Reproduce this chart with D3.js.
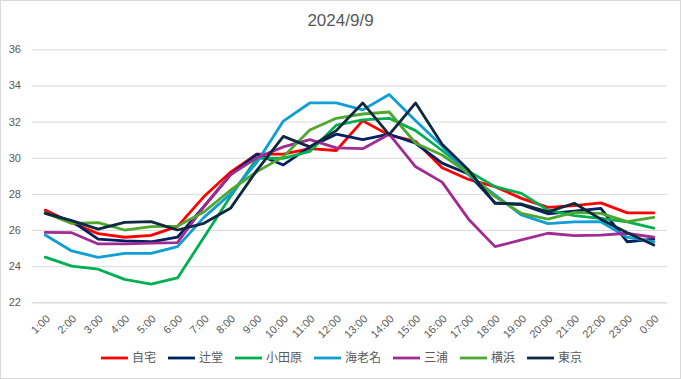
<!DOCTYPE html>
<html>
<head>
<meta charset="utf-8">
<script src="https://cdn.jsdelivr.net/npm/d3@7"></script>
<style>
  html, body { margin: 0; padding: 0; background: #fff; }
  svg { display: block; }
</style>
</head>
<body>
<svg id="chart" width="681" height="379"></svg>
<script>
const hours = ["1:00","2:00","3:00","4:00","5:00","6:00","7:00","8:00","9:00","10:00","11:00","12:00",
               "13:00","14:00","15:00","16:00","17:00","18:00","19:00","20:00","21:00","22:00","23:00","0:00"];
const yTicks = [22, 24, 26, 28, 30, 32, 34, 36];
const seriesNames = ["自宅", "辻堂", "小田原", "海老名", "三浦", "横浜", "東京"];

const jitaku   = [27.1, 26.4, 25.8, 25.6, 25.7, 26.2, 27.85, 29.2, 30.2, 30.2, 30.5, 30.4, 32.05, 31.25, 30.9, 29.45, 28.8, 28.4, 27.75, 27.25, 27.35, 27.5, 26.95, 26.95];
const tsujido  = [26.95, 26.5, 25.5, 25.4, 25.35, 25.6, 27.3, 29.05, 30.2, 29.6, 30.6, 31.3, 31.0, 31.3, 30.8, 29.7, 29.1, 27.5, 27.4, 26.9, 27.05, 27.2, 25.35, 25.5];
const odawara  = [24.5, 24.0, 23.83, 23.27, 23.0, 23.35, 25.6, 27.85, 29.97, 29.97, 30.35, 31.8, 32.1, 32.18, 31.5, 30.4, 29.25, 28.4, 28.03, 27.1, 26.8, 26.65, 26.45, 26.1];
const ebina    = [25.72, 24.84, 24.49, 24.71, 24.71, 25.08, 26.7, 28.0, 29.75, 32.03, 33.03, 33.03, 32.65, 33.5, 32.05, 30.65, 29.05, 27.94, 26.83, 26.35, 26.45, 26.46, 25.6, 25.35];
const miura    = [25.87, 25.85, 25.23, 25.23, 25.27, 25.3, 27.3, 29.05, 30.0, 30.6, 31.0, 30.55, 30.5, 31.3, 29.5, 28.65, 26.6, 25.08, 25.45, 25.82, 25.69, 25.72, 25.82, 25.6];
const yokohama = [26.95, 26.37, 26.41, 26.0, 26.19, 26.22, 27.0, 28.2, 29.23, 30.05, 31.53, 32.18, 32.42, 32.53, 30.8, 30.15, 29.14, 27.85, 26.92, 26.6, 26.98, 26.92, 26.46, 26.7];
const tokyo    = [26.92, 26.52, 26.05, 26.42, 26.46, 26.0, 26.37, 27.2, 29.3, 31.18, 30.6, 31.5, 33.03, 31.28, 33.03, 30.75, 29.32, 27.48, 27.44, 27.0, 27.48, 26.6, 25.85, 25.17];

const seriesValues = [jitaku, tsujido, odawara, ebina, miura, yokohama, tokyo];
const colors = ["#FF0000", "#002060", "#00B050", "#0F9ED5", "#A02B93", "#4EA72E", "#0E2841"];

const W = 681, H = 379;
const plot = { left: 32, right: 667, top: 49.3, bottom: 302.3 };
const textColor = "#595959";
const gridColor = "#D9D9D9";

const svg = d3.select("#chart");

svg.append("rect")
  .attr("x", 0.5).attr("y", 0.5)
  .attr("width", W - 1).attr("height", H - 1)
  .attr("fill", "#fff").attr("stroke", gridColor);

const x = d3.scalePoint().domain(hours).range([plot.left, plot.right]).padding(0.5);
const y = d3.scaleLinear().domain([22, 36]).range([plot.bottom, plot.top]);

// gridlines + y labels
const yAxis = d3.axisLeft(y).tickValues(yTicks).tickSize(-(plot.right - plot.left)).tickPadding(11);
const gy = svg.append("g").attr("transform", `translate(${plot.left},0)`).call(yAxis);
gy.select(".domain").remove();
gy.selectAll(".tick line").attr("stroke", gridColor).attr("stroke-width", 1);
gy.selectAll(".tick text")
  .attr("fill", textColor)
  .style("font-family", "'Liberation Sans', Arial, sans-serif")
  .style("font-size", "11px");

// x axis labels
const xAxis = d3.axisBottom(x).tickSize(0).tickPadding(0);
const gx = svg.append("g").attr("transform", `translate(0,${plot.bottom})`).call(xAxis);
gx.select(".domain").attr("stroke", gridColor);
gx.selectAll(".tick text")
  .attr("fill", textColor)
  .style("font-family", "'Liberation Sans', Arial, sans-serif")
  .style("font-size", "11px")
  .attr("text-anchor", "end")
  .attr("dy", null)
  .attr("y", 0)
  .attr("transform", "translate(5,17) rotate(-45)");

// lines
const line = d3.line()
  .x((d, i) => x(hours[i]))
  .y(d => y(d));

seriesValues.forEach((vals, k) => {
  svg.append("path")
    .datum(vals)
    .attr("fill", "none")
    .attr("stroke", colors[k])
    .attr("stroke-width", 2.8)
    .attr("stroke-linejoin", "round")
    .attr("stroke-linecap", "round")
    .attr("d", line);
});

// title
svg.append("text")
  .attr("x", W / 2).attr("y", 26)
  .attr("text-anchor", "middle")
  .attr("fill", textColor)
  .style("font-family", "'Liberation Sans', Arial, sans-serif")
  .style("font-size", "17px")
  .text("2024/9/9");

// legend
const legend = svg.append("g");
const legendY = 358;
let cx = 0;
const items = [];
seriesNames.forEach((name, k) => {
  const g = legend.append("g").attr("transform", `translate(${cx},0)`);
  g.append("line")
    .attr("x1", 0).attr("x2", 27)
    .attr("y1", legendY).attr("y2", legendY)
    .attr("stroke", colors[k]).attr("stroke-width", 2.8);
  const t = g.append("text")
    .attr("x", 31).attr("y", legendY)
    .attr("dy", "0.35em")
    .attr("fill", textColor)
    .style("font-family", "'Noto Sans CJK JP', sans-serif")
    .style("font-size", "12px")
    .text(name);
  const w = t.node().getComputedTextLength();
  cx += 31 + w + 12;
});
const totalW = cx - 12;
legend.attr("transform", `translate(${(W - totalW) / 2 + 1},0)`);
</script>
</body>
</html>
